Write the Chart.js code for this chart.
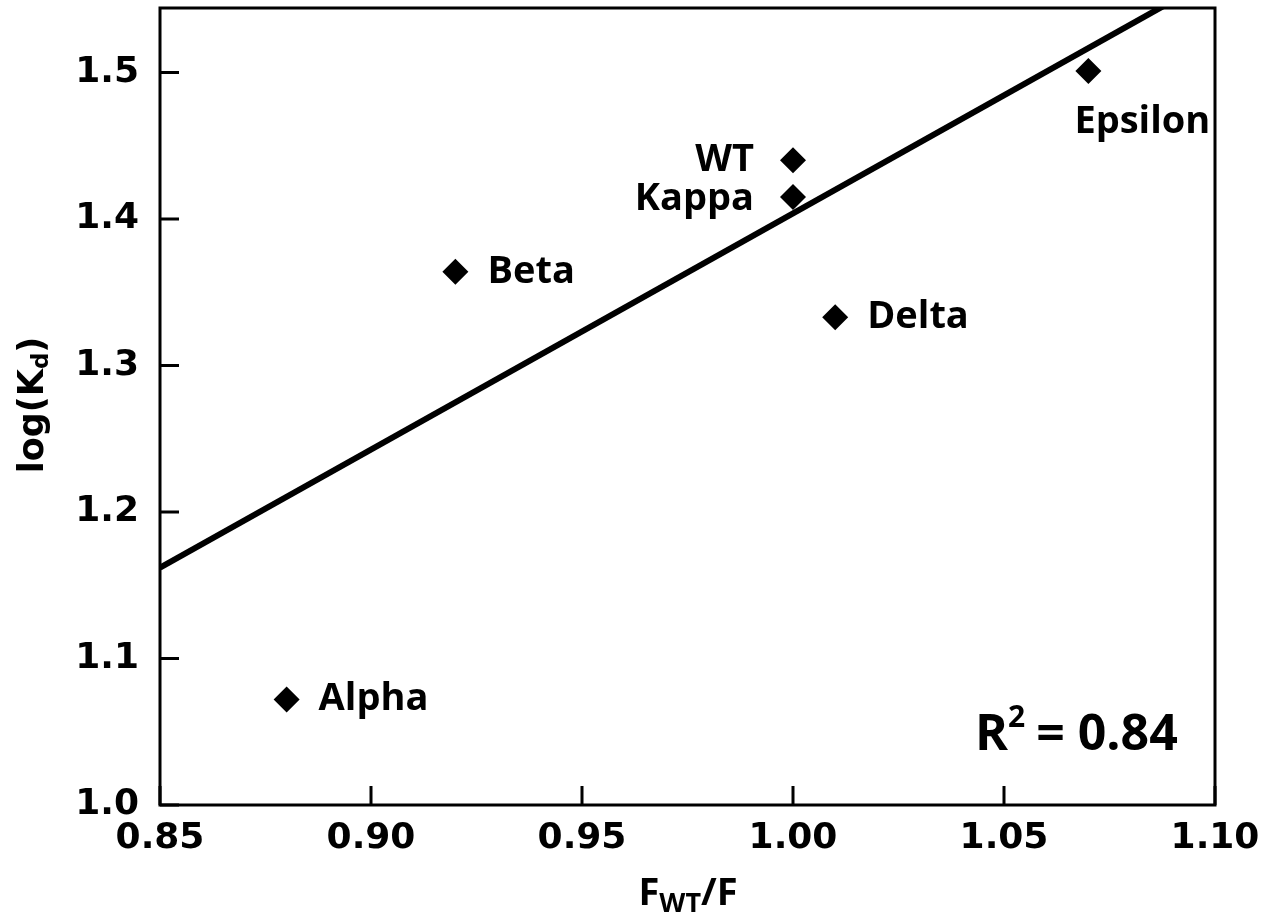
<html>
<head>
  <title>log(Kd) vs FWT/F</title>
  <script src="https://cdn.jsdelivr.net/npm/chart.js"></script>
  <style>
    body { margin: 0; background: #fff; }
    #wrap { width: 1273px; height: 917px; }
  </style>
</head>
<body>
  <div id="wrap"><canvas id="myChart" width="1273" height="917"></canvas></div>
  <script>
    // 資料
    const variants = ['Alpha', 'Beta', 'WT', 'Kappa', 'Delta', 'Epsilon'];
    const fRatio = [0.88, 0.92, 1.00, 1.00, 1.01, 1.07];
    const logKd = [1.072, 1.364, 1.440, 1.415, 1.333, 1.501];
    const fitX = [0.85, 1.10];
    const fitY = [1.162, 1.565];
    const xTicks = [0.85, 0.90, 0.95, 1.00, 1.05, 1.10];
    const yTicks = [1.0, 1.1, 1.2, 1.3, 1.4, 1.5];
    const rSquared = '0.84';

    // 標籤位置 (像素偏移)
    const labelPos = {
      Alpha:   { dx: 32, dy: 0, align: 'left' },
      Beta:    { dx: 32, dy: 0, align: 'left' },
      WT:      { dx: -39, dy: 0, align: 'right' },
      Kappa:   { dx: -39, dy: 2, align: 'right' },
      Delta:   { dx: 32, dy: 0, align: 'left' },
      Epsilon: { dx: -14, dy: 51, align: 'left' }
    };

    const labelFont = 'bold 38px "Open Sans"';
    const tickFont = { family: 'DejaVu Sans', size: 36, weight: 'bold' };

    // 外框、內側刻度、文字
    const decorations = {
      id: 'decorations',
      afterDraw(chart) {
        const ctx = chart.ctx;
        const a = chart.chartArea;
        const xs = chart.scales.x, ys = chart.scales.y;
        ctx.save();
        ctx.strokeStyle = '#000';
        ctx.lineWidth = 3;
        ctx.strokeRect(a.left, a.top, a.right - a.left, a.bottom - a.top);
        ctx.beginPath();
        xTicks.forEach(v => {
          const px = xs.getPixelForValue(v);
          ctx.moveTo(px, a.bottom);
          ctx.lineTo(px, a.bottom - 19);
        });
        yTicks.forEach(v => {
          const py = ys.getPixelForValue(v);
          ctx.moveTo(a.left, py);
          ctx.lineTo(a.left + 19, py);
        });
        ctx.stroke();

        // 點的標籤
        ctx.fillStyle = '#000';
        ctx.font = labelFont;
        ctx.textBaseline = 'middle';
        variants.forEach((name, i) => {
          const p = labelPos[name];
          ctx.textAlign = p.align;
          ctx.fillText(name, xs.getPixelForValue(fRatio[i]) + p.dx, ys.getPixelForValue(logKd[i]) + p.dy);
        });

        // R²
        ctx.textAlign = 'left';
        ctx.textBaseline = 'alphabetic';
        ctx.font = 'bold 50px "Open Sans"';
        ctx.fillText('R', 975, 750);
        const rw = ctx.measureText('R').width;
        ctx.font = 'bold 30px "Open Sans"';
        ctx.fillText('2', 975 + rw, 727);
        const sw = ctx.measureText('2').width;
        ctx.font = 'bold 50px "Open Sans"';
        ctx.fillText(' = ' + rSquared, 975 + rw + sw - 2, 750);

        // x 軸標題 FWT/F
        ctx.font = 'bold 38px "Open Sans"';
        const wF = ctx.measureText('F').width;
        const wSl = ctx.measureText('/F').width;
        ctx.font = 'bold 27px "Open Sans"';
        const wSub = ctx.measureText('WT').width;
        let x0 = 688 - (wF + wSub + wSl) / 2;
        ctx.font = 'bold 38px "Open Sans"';
        ctx.fillText('F', x0, 905);
        ctx.font = 'bold 27px "Open Sans"';
        ctx.fillText('WT', x0 + wF, 912);
        ctx.font = 'bold 38px "Open Sans"';
        ctx.fillText('/F', x0 + wF + wSub, 905);

        // y 軸標題 log(Kd)
        ctx.translate(43, 405);
        ctx.rotate(-Math.PI / 2);
        ctx.font = 'bold 35px "DejaVu Sans"';
        const w1 = ctx.measureText('log(K').width;
        const w3 = ctx.measureText(')').width;
        ctx.font = 'bold 23px "DejaVu Sans"';
        const w2 = ctx.measureText('d').width;
        let s = -(w1 + w2 + w3) / 2;
        ctx.font = 'bold 35px "DejaVu Sans"';
        ctx.fillText('log(K', s, 0);
        ctx.font = 'bold 23px "DejaVu Sans"';
        ctx.fillText('d', s + w1, 5);
        ctx.font = 'bold 35px "DejaVu Sans"';
        ctx.fillText(')', s + w1 + w2, 0);
        ctx.restore();
      }
    };

    const ctx = document.getElementById('myChart').getContext('2d');
    const myChart = new Chart(ctx, {
      type: 'scatter',
      data: {
        datasets: [{
          label: 'fit',
          data: fitX.map((x, i) => ({ x: x, y: fitY[i] })),
          showLine: true,
          borderColor: '#000',
          borderWidth: 6,
          pointRadius: 0,
          clip: 0
        }, {
          label: 'variants',
          data: fRatio.map((x, i) => ({ x: x, y: logKd[i] })),
          pointStyle: 'rectRot',
          pointRadius: 13,
          backgroundColor: '#000',
          borderColor: '#000',
          borderWidth: 0
        }]
      },
      options: {
        responsive: false,
        animation: false,
        layout: { autoPadding: false, padding: { top: 8, right: 58, left: 0, bottom: 0 } },
        plugins: { legend: { display: false }, tooltip: { enabled: false } },
        scales: {
          x: {
            min: 0.85, max: 1.10,
            grid: { display: false },
            border: { display: false },
            ticks: {
              color: '#000', font: tickFont, padding: 4,
              callback: v => Number(v).toFixed(2)
            },
            afterBuildTicks: s => { s.ticks = xTicks.map(v => ({ value: v })); },
            afterFit: s => { s.height = 112; s.paddingLeft = 0; s.paddingRight = 0; }
          },
          y: {
            min: 1.0, max: 1.544,
            grid: { display: false },
            border: { display: false },
            ticks: {
              color: '#000', font: tickFont, padding: 13,
              callback: v => Number(v).toFixed(1)
            },
            afterBuildTicks: s => { s.ticks = yTicks.map(v => ({ value: v })); },
            afterFit: s => { s.width = 160; s.paddingTop = 0; s.paddingBottom = 0; }
          }
        }
      },
      plugins: [decorations]
    });
  </script>
</body>
</html>
